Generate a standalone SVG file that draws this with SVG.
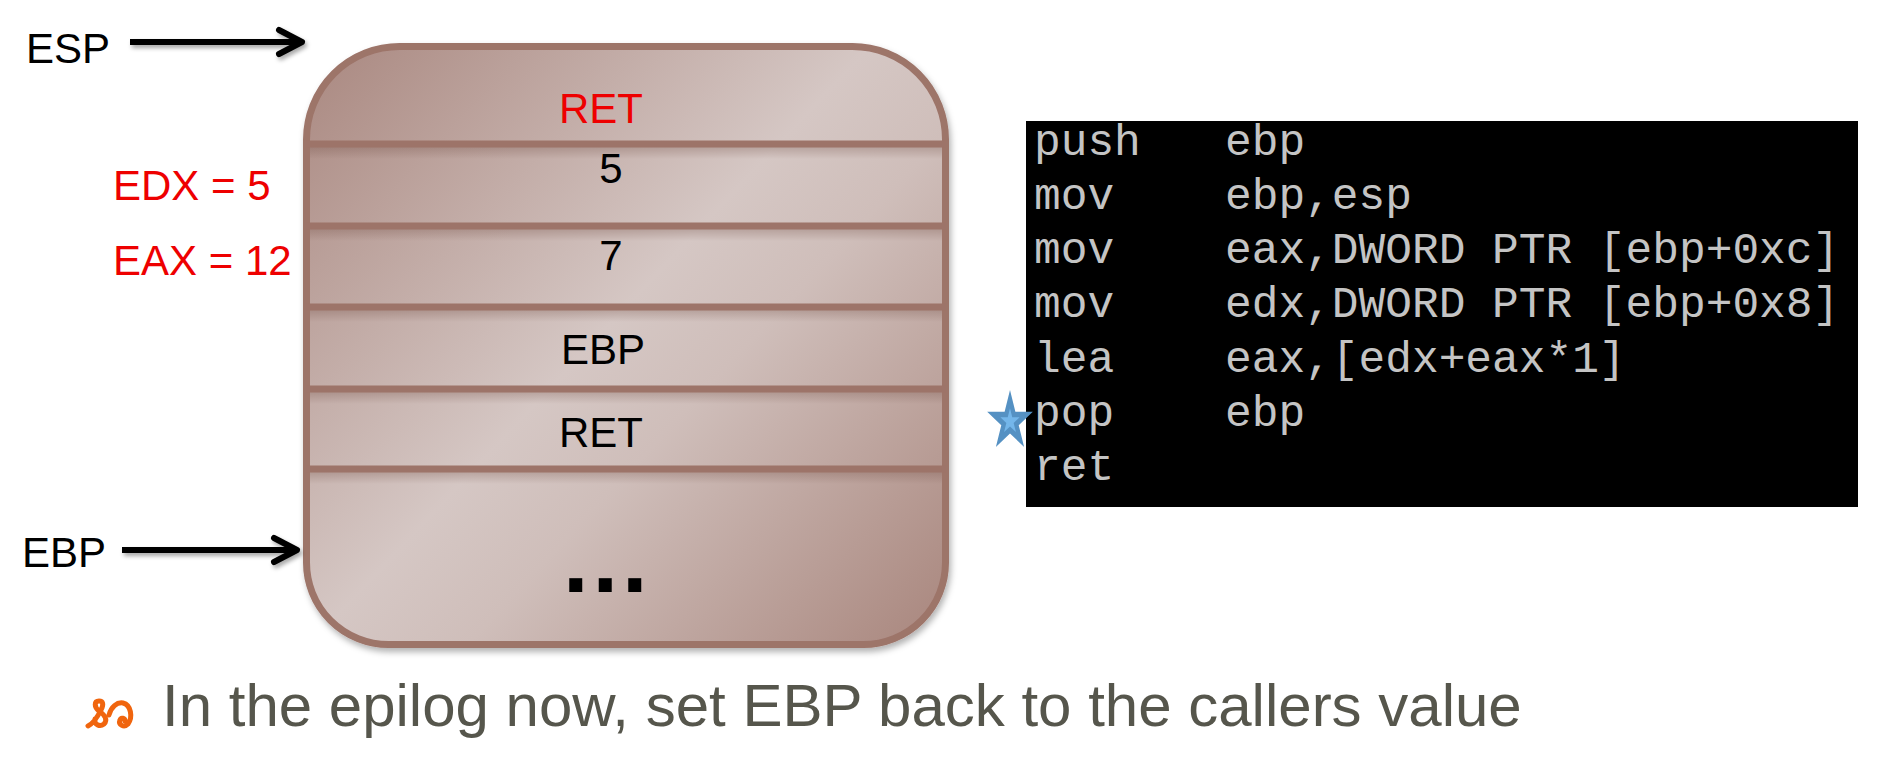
<svg xmlns="http://www.w3.org/2000/svg" width="1880" height="772" viewBox="0 0 1880 772">
<defs>
<style>
.lbl{font-family:"Liberation Sans",Arial,sans-serif;font-size:42px;fill:#000}
.red{fill:#ee0000}
.cell{text-anchor:middle}
.code{font-family:"Liberation Mono","Courier New",monospace;font-size:44.5px;fill:#c4c4c4}
.div{stroke:#9d7469;stroke-width:7}
.arrow{stroke:#000;stroke-width:6;fill:none}
.bul{font-family:"Liberation Sans",Arial,sans-serif;font-size:60px;fill:#56564c}
</style>
<linearGradient id="stackFill" gradientUnits="userSpaceOnUse" x1="303" y1="43" x2="949" y2="648">
<stop offset="0" stop-color="#a9877f"/>
<stop offset="0.47" stop-color="#d5c7c4"/>
<stop offset="0.6" stop-color="#cfbeba"/>
<stop offset="1" stop-color="#a8857c"/>
</linearGradient>
<linearGradient id="shade" x1="0" y1="0" x2="0" y2="1">
<stop offset="0" stop-color="#6e4a40" stop-opacity="0.28"/>
<stop offset="1" stop-color="#6e4a40" stop-opacity="0"/>
</linearGradient>
<filter id="sh" x="-10%" y="-10%" width="130%" height="130%">
<feDropShadow dx="2" dy="4" stdDeviation="3" flood-color="#000" flood-opacity="0.3"/>
</filter>
<filter id="ash" x="-10%" y="-50%" width="130%" height="200%">
<feDropShadow dx="2" dy="3" stdDeviation="2" flood-color="#000" flood-opacity="0.35"/>
</filter>
<marker id="chev" markerUnits="userSpaceOnUse" markerWidth="40" markerHeight="40" refX="0" refY="0" viewBox="-30 -20 40 40" orient="auto" overflow="visible">
<path d="M -23 -12 L 0 0 L -23 12" stroke="#000" stroke-width="6" fill="none" stroke-linecap="round" stroke-linejoin="round"/>
</marker>
</defs>
<rect width="1880" height="772" fill="#fff"/>

<g id="stack">
<path d="M 306.5 139.5 A 93 93 0 0 1 399.5 46.5 L 852.5 46.5 A 93 93 0 0 1 945.5 139.5 L 945.5 562.5 A 82 82 0 0 1 863.5 644.5 L 388.5 644.5 A 82 82 0 0 1 306.5 562.5 Z" fill="url(#stackFill)" stroke="#9d7469" stroke-width="7" filter="url(#sh)"/>
<rect x="310" y="147" width="632" height="12" fill="url(#shade)"/>
<rect x="310" y="229" width="632" height="12" fill="url(#shade)"/>
<rect x="310" y="310" width="632" height="12" fill="url(#shade)"/>
<rect x="310" y="392" width="632" height="12" fill="url(#shade)"/>
<rect x="310" y="472" width="632" height="12" fill="url(#shade)"/>
<line class="div" x1="306" y1="144" x2="946" y2="144"/>
<line class="div" x1="306" y1="226" x2="946" y2="226"/>
<line class="div" x1="306" y1="307" x2="946" y2="307"/>
<line class="div" x1="306" y1="389" x2="946" y2="389"/>
<line class="div" x1="306" y1="469" x2="946" y2="469"/>
</g>
<g id="cell-ret-top"><text class="lbl red cell" x="601" y="123">RET</text></g>
<g id="cell-5"><text class="lbl cell" x="611" y="183">5</text></g>
<g id="cell-7"><text class="lbl cell" x="611" y="270">7</text></g>
<g id="cell-ebp"><text class="lbl cell" x="603" y="364">EBP</text></g>
<g id="cell-ret"><text class="lbl cell" x="601" y="447">RET</text></g>
<g id="cell-dots"><text x="563" y="592" style="font-family:'Liberation Sans',Arial,sans-serif;font-size:92px;font-weight:bold;letter-spacing:4px" fill="#000">...</text></g>

<g id="label-esp"><text class="lbl" x="26" y="63">ESP</text></g>
<g id="label-ebp"><text class="lbl" x="22" y="567">EBP</text></g>
<g id="label-edx"><text class="lbl red" x="113" y="200">EDX = 5</text></g>
<g id="label-eax"><text class="lbl red" x="113" y="275">EAX = 12</text></g>

<g id="connectors" filter="url(#ash)">
<line class="arrow" x1="130" y1="42" x2="302" y2="42" marker-end="url(#chev)"/>
<line class="arrow" x1="122" y1="550" x2="297" y2="550" marker-end="url(#chev)"/>
</g>

<g id="code">
<rect x="1026" y="121" width="832" height="386" fill="#000"/>
<text class="code" x="1034" y="155">push</text><text class="code" x="1225" y="155">ebp</text>
<text class="code" x="1034" y="209">mov</text><text class="code" x="1225" y="209">ebp,esp</text>
<text class="code" x="1034" y="263">mov</text><text class="code" x="1225" y="263">eax,DWORD PTR [ebp+0xc]</text>
<text class="code" x="1034" y="317">mov</text><text class="code" x="1225" y="317">edx,DWORD PTR [ebp+0x8]</text>
<text class="code" x="1034" y="372">lea</text><text class="code" x="1225" y="372">eax,[edx+eax*1]</text>
<text class="code" x="1034" y="426">pop</text><text class="code" x="1225" y="426">ebp</text>
<text class="code" x="1034" y="480">ret</text>
</g>

<g id="star" transform="translate(1010 390) scale(1 1.31)">
<polygon points="0,0 5.39,16.58 22.83,16.58 8.72,26.83 14.11,43.42 0,33.17 -14.11,43.42 -8.72,26.83 -22.83,16.58 -5.39,16.58" fill="#5591c3"/>
<polygon transform="translate(0 24) scale(0.42) translate(0 -24)" points="0,0 5.39,16.58 22.83,16.58 8.72,26.83 14.11,43.42 0,33.17 -14.11,43.42 -8.72,26.83 -22.83,16.58 -5.39,16.58" fill="#74b6ea"/>
</g>

<g id="bullet">
<g transform="translate(86 699)" fill="none" stroke="#f0650e" stroke-width="5" stroke-linecap="round" stroke-linejoin="round">
<path d="M 2 27 C 8 24 12 17 15 11 C 18 5 17 2 13 2 C 8 2 8 8 13 12 C 19 16 22 21 18 25 C 14 28 8 26 9 20"/>
<path d="M 23 16 C 25 8 31 3 37 4 C 45 6 47 18 42 25 C 38 29 32 26 34 21 C 35 18 39 19 39 22"/>
</g>
<text class="bul" x="162" y="726">In the epilog now, set EBP back to the callers value</text>
</g>
</svg>
